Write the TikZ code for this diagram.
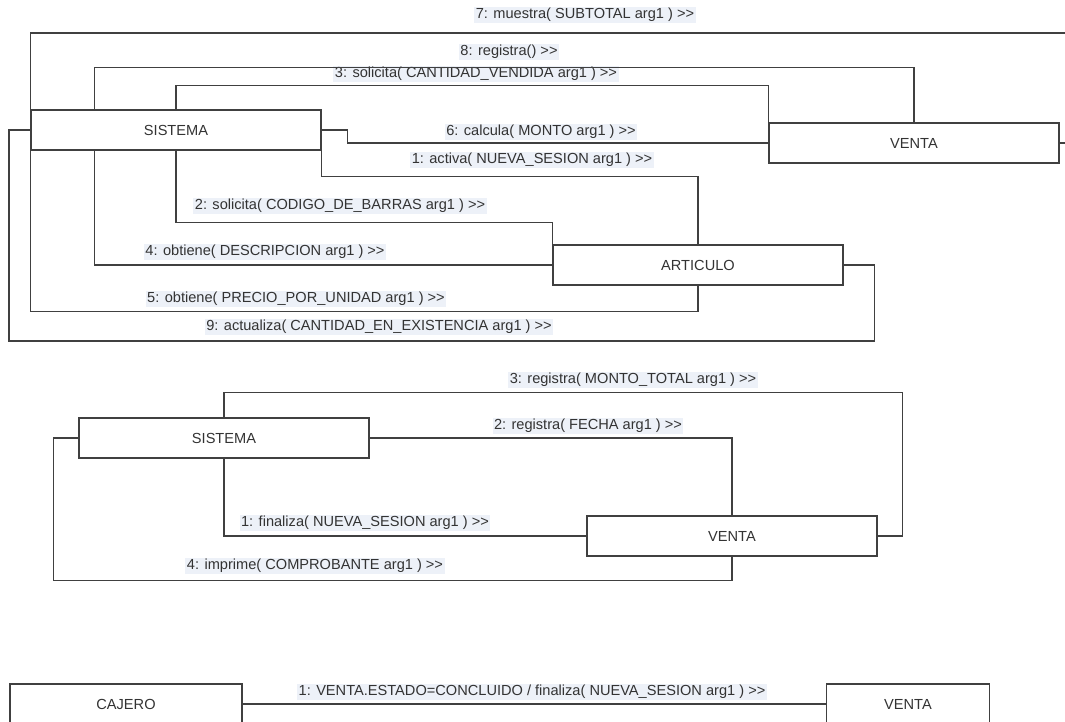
\documentclass[tikz,border=0pt]{standalone}
\usepackage{fontspec}
\newfontfamily\visiofont{Liberation Sans}
\definecolor{linegray}{HTML}{404040}
\definecolor{textgray}{HTML}{333333}
\definecolor{tagfill}{HTML}{EDF1F8}

\begin{document}
\begin{tikzpicture}[x=1pt,y=-1pt,
  classbox/.style={draw=linegray, line width=1.3pt, fill=white, minimum width=290pt, minimum height=40pt, inner sep=0pt, text=textgray, font=\visiofont\fontsize{14.6}{17}\selectfont},
  msg/.style={fill=tagfill, inner sep=1.5pt, text=textgray, font=\visiofont\fontsize{14.6}{17}\selectfont},
  link/.style={draw=linegray, line width=1.3pt}]
\useasboundingbox (0,0) rectangle (1065,721);
\clip (0,0) rectangle (1065,721);

\node[msg] (m7) at (585,15) {7: muestra( SUBTOTAL arg1 ) >>};
\node[msg] (m8) at (509,52) {8: registra() >>};
\node[msg] (m3) at (476,74) {3: solicita( CANTIDAD\_VENDIDA arg1 ) >>};
\node[msg] (m6) at (541,132) {6: calcula( MONTO arg1 ) >>};
\node[msg] (m1) at (532,160) {1: activa( NUEVA\_SESION arg1 ) >>};
\node[msg] (m2) at (340,206) {2: solicita( CODIGO\_DE\_BARRAS arg1 ) >>};
\node[msg] (m4) at (265,252) {4: obtiene( DESCRIPCION arg1 ) >>};
\node[msg] (m5) at (296,299) {5: obtiene( PRECIO\_POR\_UNIDAD arg1 ) >>};
\node[msg] (m9) at (379,327) {9: actualiza( CANTIDAD\_EN\_EXISTENCIA arg1 ) >>};

\node[msg] (n3) at (633,380) {3: registra( MONTO\_TOTAL arg1 ) >>};
\node[msg] (n2) at (588,426) {2: registra( FECHA arg1 ) >>};
\node[msg] (n1) at (365,523) {1: finaliza( NUEVA\_SESION arg1 ) >>};
\node[msg] (n4) at (315,566) {4: imprime( COMPROBANTE arg1 ) >>};

\node[msg] (k1) at (532,692) {1: VENTA.ESTADO=CONCLUIDO / finaliza( NUEVA\_SESION arg1 ) >>};

\node[classbox] (sis1) at (176,130) {SISTEMA};
\node[classbox] (venta1) at (914,143) {VENTA};
\node[classbox] (art) at (698,265) {ARTICULO};

\node[classbox] (sis2) at (224,438) {SISTEMA};
\node[classbox] (venta2) at (732,536) {VENTA};

\node[classbox, minimum width=232pt] (cajero) at (126,704) {CAJERO};
\node[classbox, minimum width=163pt] (venta3) at (908,704) {VENTA};

\draw[link] (sis1.north west) |- (1080,33) |- (venta1.east);
\draw[link] ([xshift=64pt]sis1.north west) -- ++(0,-42) -| (venta1.north);
\draw[link] (sis1.north) -- ++(0,-24) -| (venta1.north west);
\draw[link] (sis1.east) -- ++(26,0) |- (venta1.west);
\draw[link] (sis1.south east) -- ++(0,26) -| (art.north);
\draw[link] (sis1.south) -- ++(0,72) -| (art.north west);
\draw[link] ([xshift=64pt]sis1.south west) |- (art.west);
\draw[link] (sis1.south west) -- ++(0,161) -| (art.south);
\draw[link] (sis1.west) -| (9,341) -| ([xshift=31pt]art.east) -- (art.east);

\draw[link] (sis2.north) -- ++(0,-25) -| ([xshift=25pt]venta2.east) -- (venta2.east);
\draw[link] (sis2.east) -| (venta2.north);
\draw[link] (sis2.south) |- (venta2.west);
\draw[link] (sis2.west) -- ++(-25,0) |- ([yshift=-24pt]venta2.south) -- (venta2.south);

\draw[link] (cajero.east) -- (venta3.west);
\end{tikzpicture}
\end{document}
